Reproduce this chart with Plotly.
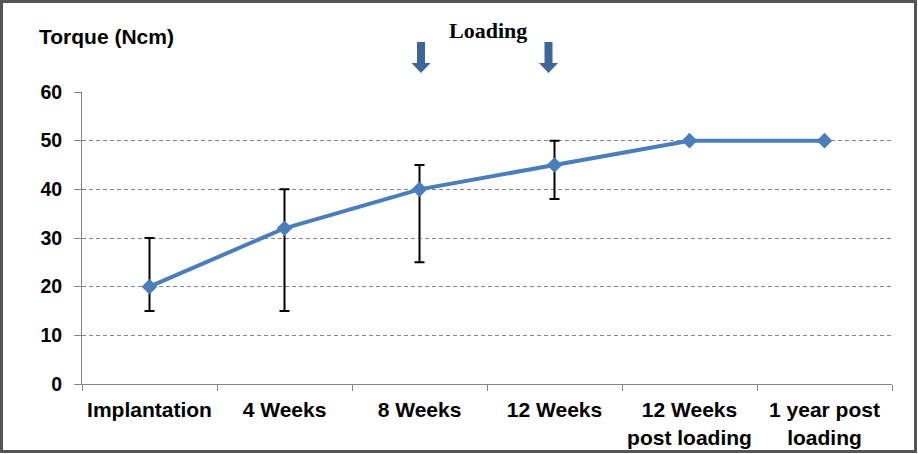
import plotly.graph_objects as go

categories = ["Implantation", "4 Weeks", "8 Weeks", "12 Weeks",
              "12 Weeks<br>post loading", "1 year post<br>loading"]
torque = [20, 32, 40, 45, 50, 50]
err_plus = [10, 8, 5, 5, None, None]
err_minus = [5, 17, 15, 7, None, None]
y_ticks = [0, 10, 20, 30, 40, 50, 60]
loading_points = [2, 3]          # category indices marked with arrows
arrow_offsets_px = [1.5, -6]     # small horizontal offsets from category centres

W, H = 918, 454
L, R, T, B = 82, 26, 92, 70
pw, ph = W - L - R, H - T - B

fig = go.Figure()
fig.add_trace(go.Scatter(
    x=categories, y=torque, mode="lines+markers",
    line=dict(color="#4A7EBB", width=4),
    marker=dict(symbol="diamond", size=12, color="#4A7EBB"),
    error_y=dict(type="data", symmetric=False, array=err_plus, arrayminus=err_minus,
                 color="black", thickness=2, width=5),
    showlegend=False, cliponaxis=False,
))

axis_gray = "#868686"
fig.update_layout(
    width=W, height=H,
    margin=dict(l=L, r=R, t=T, b=B, pad=0, autoexpand=False),
    paper_bgcolor="white", plot_bgcolor="white",
    font=dict(family="Liberation Sans, Arial, sans-serif", color="black"),
    xaxis=dict(type="category", range=[-0.5, 5.5], showgrid=False,
               showline=True, linecolor=axis_gray, linewidth=1,
               ticks="outside", tickson="boundaries", ticklen=6, tickcolor=axis_gray,
               ticklabelstandoff=7,
               tickfont=dict(size=21, family="Liberation Sans, Arial", weight="bold"),
               zeroline=False, automargin=False),
    yaxis=dict(range=[0, 60], tickvals=y_ticks, showgrid=True, gridcolor=axis_gray,
               griddash="4px,3px", gridwidth=1,
               showline=True, linecolor=axis_gray, linewidth=1,
               ticks="outside", ticklen=7, tickcolor=axis_gray,
               ticklabelstandoff=8,
               tickfont=dict(size=19.5, family="Liberation Sans, Arial", weight="bold"),
               zeroline=False, automargin=False),
)

# outer border
fig.add_shape(type="rect", xref="paper", yref="paper",
              x0=(1.5 - L) / pw, x1=(W - 2.5 - L) / pw,
              y0=-(H - 2.5 - T - ph) / ph, y1=1 + (T - 1.5) / ph,
              line=dict(color="#555555", width=3), layer="below")

# title
fig.add_annotation(text="<b>Torque (Ncm)</b>", xref="paper", yref="paper",
                   x=(37 - L) / pw, y=1 + (T - 36) / ph, xanchor="left", yanchor="middle",
                   showarrow=False, font=dict(size=21, family="Liberation Sans, Arial"))

# Loading label
fig.add_annotation(text="<b>Loading</b>", xref="paper", yref="paper",
                   x=(488 - L) / pw, y=1 + (T - 30) / ph, xanchor="center", yanchor="middle",
                   showarrow=False, font=dict(size=22, family="Liberation Serif, Times New Roman, serif"))

# arrows
for idx, off in zip(loading_points, arrow_offsets_px):
    o = off
    path = (f"M {o-4},50 L {o+4},50 L {o+4},29 L {o+9.5},29 L {o},19 "
            f"L {o-9.5},29 L {o-4},29 Z")
    fig.add_shape(type="path", xref="x", yref="paper",
                  xsizemode="pixel", ysizemode="pixel",
                  xanchor=idx, yanchor=1, path=path,
                  fillcolor="#3E6698", line=dict(width=0))

fig.write_html("out.html", config={"displayModeBar": False},
               post_script="document.body.style.margin='0';document.body.style.overflow='hidden';")
